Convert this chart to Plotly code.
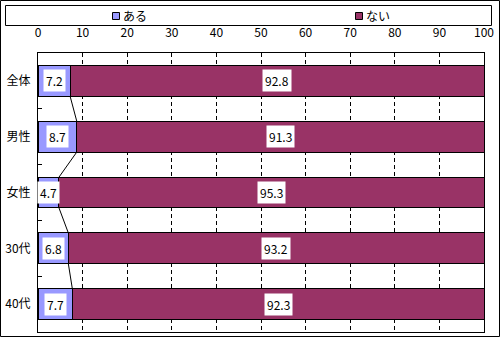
import plotly.graph_objects as go

categories = ["全体", "男性", "女性", "30代", "40代"]
aru = [7.2, 8.7, 4.7, 6.8, 7.7]
nai = [92.8, 91.3, 95.3, 93.2, 92.3]
series_names = ["ある", "ない"]
series_colors = ["#9999FF", "#993366"]
xticks = list(range(0, 101, 10))

W, H = 500, 337
ML, MR, MT, MB = 38, 16, 53, 5
PW, PH = W - ML - MR, H - MT - MB
FONT = "Noto Sans CJK JP, sans-serif"
BAR_W = 0.55


def px(x):
    return (x - ML) / PW


def py(y):
    return (H - MB - y) / PH


fig = go.Figure()
for name, vals, col in zip(series_names, [aru, nai], series_colors):
    fig.add_trace(go.Bar(
        y=categories, x=vals, name=name, orientation="h",
        marker=dict(color=col, line=dict(color="black", width=1)),
        width=BAR_W, showlegend=False, hoverinfo="skip",
    ))

annotations = []
for i, c in enumerate(categories):
    annotations.append(dict(x=aru[i] / 2, y=c, xref="x", yref="y", text=f"{aru[i]}",
                            showarrow=False, bgcolor="white", borderpad=2,
                            font=dict(size=12, color="black", family=FONT)))
    annotations.append(dict(x=aru[i] + nai[i] / 2, y=c, xref="x", yref="y", text=f"{nai[i]}",
                            showarrow=False, bgcolor="white", borderpad=2,
                            font=dict(size=12, color="black", family=FONT)))

shapes = []
# series connector lines
for i in range(len(categories) - 1):
    shapes.append(dict(type="line", xref="x", yref="y",
                       x0=aru[i], y0=i + BAR_W / 2, x1=aru[i + 1], y1=i + 1 - BAR_W / 2,
                       line=dict(color="black", width=1), layer="above"))

# outer border
shapes.append(dict(type="rect", xref="paper", yref="paper",
                   x0=px(0.5), x1=px(W - 0.5), y0=py(H - 0.5), y1=py(0.5),
                   line=dict(color="black", width=1), fillcolor="rgba(0,0,0,0)"))
# legend box
shapes.append(dict(type="rect", xref="paper", yref="paper",
                   x0=px(5.5), x1=px(491.5), y0=py(25.5), y1=py(5.5),
                   line=dict(color="black", width=1), fillcolor="white"))
legend_x = [112, 355]
for lx, name, col in zip(legend_x, series_names, series_colors):
    shapes.append(dict(type="rect", xref="paper", yref="paper",
                       x0=px(lx + 0.5), x1=px(lx + 7.5), y0=py(19.5), y1=py(12.5),
                       line=dict(color="black", width=1), fillcolor=col))
    annotations.append(dict(x=px(lx + 9), y=py(15.5), xref="paper", yref="paper",
                            text=name, showarrow=False, xanchor="left", yanchor="middle",
                            font=dict(size=12, color="black", family=FONT)))

fig.update_layout(
    width=W, height=H,
    margin=dict(l=ML, r=MR, t=MT, b=MB),
    barmode="stack", bargap=0.45,
    paper_bgcolor="white", plot_bgcolor="white",
    font=dict(family=FONT, size=12, color="black"),
    annotations=annotations, shapes=shapes,
    xaxis=dict(side="top", range=[0, 100], tickvals=xticks, ticktext=[str(t) for t in xticks],
               showgrid=True, gridcolor="black", gridwidth=1, griddash="4px,3px",
               showline=True, mirror=True, linecolor="black", linewidth=1,
               zeroline=False, ticks="", ticklabelstandoff=10,
               tickfont=dict(size=12, family=FONT, color="black"), fixedrange=True),
    yaxis=dict(categoryorder="array", categoryarray=categories, autorange="reversed",
               showgrid=False, showline=True, mirror=True, linecolor="black", linewidth=1,
               ticks="inside", tickson="boundaries", ticklen=4, tickcolor="black",
               ticklabelstandoff=4,
               tickfont=dict(size=12, family=FONT, color="black"), fixedrange=True),
)

fig.write_html("out.html")
